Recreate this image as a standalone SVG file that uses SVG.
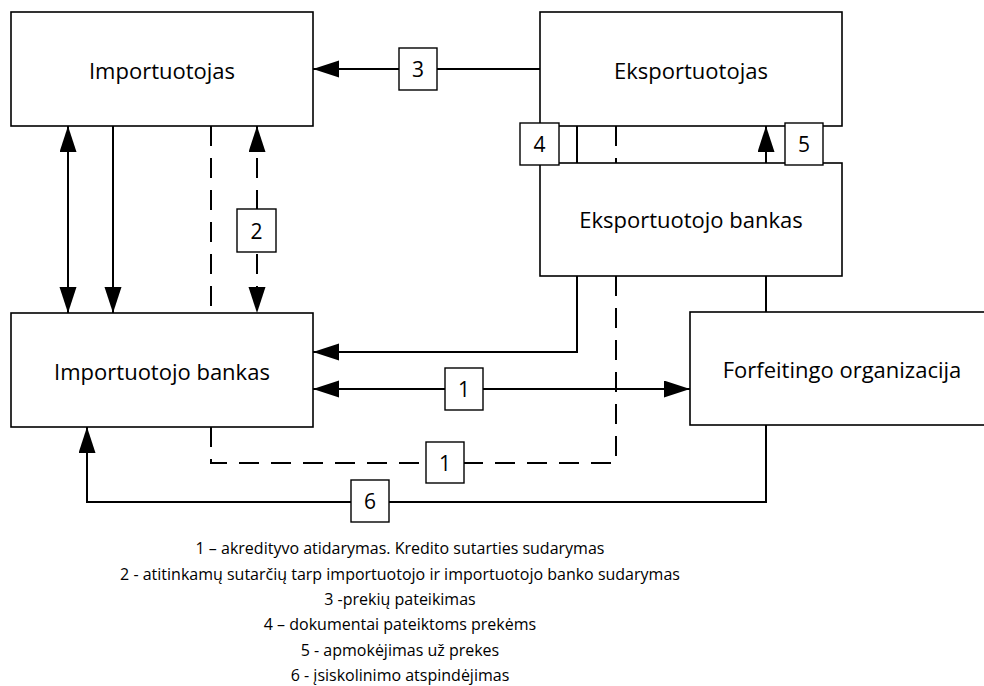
<svg xmlns="http://www.w3.org/2000/svg" width="984" height="686" viewBox="0 0 984 686">
<style>
.box{fill:#fff;stroke:#000;stroke-width:1.6}
.tag{fill:#fff;stroke:#000;stroke-width:1.4}
.c{fill:none;stroke:#000;stroke-width:2}
.d{fill:none;stroke:#000;stroke-width:2;stroke-dasharray:20 12}
.t{font-family:"Open Sans","Liberation Sans",sans-serif;font-size:22px;fill:#000;text-anchor:middle;dominant-baseline:central}
.n{font-family:"Open Sans","Liberation Sans",sans-serif;font-size:21px;fill:#000;text-anchor:middle;dominant-baseline:central}
.l{font-family:"Open Sans","Liberation Sans",sans-serif;font-size:16px;fill:#000;text-anchor:middle}
</style>
<defs>
<marker id="ah" markerUnits="userSpaceOnUse" markerWidth="27" markerHeight="18" refX="26" refY="8.5" orient="auto-start-reverse">
<path d="M0,0 L26,8.5 L0,17 z" fill="#000"/>
</marker>
</defs>
<g id="connectors">
<line class="c" x1="540" y1="69" x2="313" y2="69" marker-end="url(#ah)"/>
<line class="c" x1="68" y1="126" x2="68" y2="313" marker-start="url(#ah)" marker-end="url(#ah)"/>
<line class="c" x1="113" y1="126" x2="113" y2="313" marker-end="url(#ah)"/>
<line class="d" x1="211" y1="126" x2="211" y2="313"/>
<line class="d" x1="257" y1="126" x2="257" y2="313" marker-start="url(#ah)" marker-end="url(#ah)"/>
<line class="c" x1="577" y1="126" x2="577" y2="163"/>
<polyline class="c" points="577,276 577,352 313,352" marker-end="url(#ah)"/>
<line class="d" x1="616" y1="126" x2="616" y2="163" stroke-dasharray="7 23 7"/>
<polyline class="d" points="616,276 616,463 211,463 211,427"/>
<line class="c" x1="313" y1="389" x2="690" y2="389" marker-start="url(#ah)" marker-end="url(#ah)"/>
<line class="c" x1="766" y1="276" x2="766" y2="312"/>
<line class="c" x1="766" y1="163" x2="766" y2="126" marker-end="url(#ah)"/>
<polyline class="c" points="766,425 766,502 87,502 87,427" marker-end="url(#ah)"/>
</g>
<g id="importuotojas"><rect class="box" x="11" y="12" width="302" height="114"/><text class="t" x="162" y="70">Importuotojas</text></g>
<g id="eksportuotojas"><rect class="box" x="540" y="12" width="302" height="114"/><text class="t" x="691" y="70">Eksportuotojas</text></g>
<g id="eksportuotojo-bankas"><rect class="box" x="540" y="163" width="302" height="113"/><text class="t" x="691" y="219">Eksportuotojo bankas</text></g>
<g id="importuotojo-bankas"><rect class="box" x="11" y="313" width="302" height="114"/><text class="t" x="162" y="371">Importuotojo bankas</text></g>
<g id="forfeitingo-organizacija"><rect class="box" x="690" y="312" width="305" height="113"/><text class="t" x="842" y="369">Forfeitingo organizacija</text></g>
<g id="labels">
<g id="tag3"><rect class="tag" x="399" y="48" width="38" height="42"/><text class="n" x="418" y="69">3</text></g>
<g id="tag2"><rect class="tag" x="237" y="209" width="39" height="43"/><text class="n" x="256.5" y="230.5">2</text></g>
<g id="tag4"><rect class="tag" x="520" y="123" width="39" height="42"/><text class="n" x="539.5" y="144">4</text></g>
<g id="tag5"><rect class="tag" x="785" y="123" width="38" height="42"/><text class="n" x="804" y="144">5</text></g>
<g id="tag1a"><rect class="tag" x="445" y="368" width="38" height="42"/><text class="n" x="464" y="389">1</text></g>
<g id="tag1b"><rect class="tag" x="426" y="442" width="38" height="41"/><text class="n" x="445" y="462.5">1</text></g>
<g id="tag6"><rect class="tag" x="351" y="480" width="38" height="42"/><text class="n" x="370" y="501">6</text></g>
</g>
<g id="legend">
<text class="l" x="400" y="554">1 – akredityvo atidarymas. Kredito sutarties sudarymas</text>
<text class="l" x="400" y="580">2 - atitinkamų sutarčių tarp importuotojo ir importuotojo banko sudarymas</text>
<text class="l" x="400" y="605">3 -prekių pateikimas</text>
<text class="l" x="400" y="630">4 – dokumentai pateiktoms prekėms</text>
<text class="l" x="400" y="656">5 - apmokėjimas už prekes</text>
<text class="l" x="400" y="681">6 - įsiskolinimo atspindėjimas</text>
</g>
</svg>
